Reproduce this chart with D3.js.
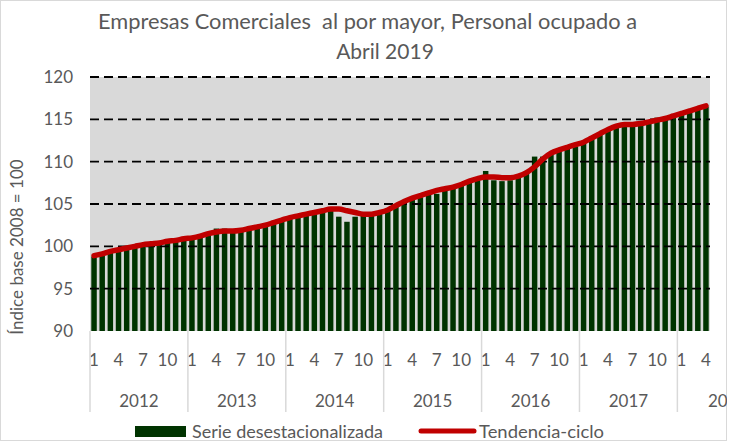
<!DOCTYPE html>
<html>
<head>
<meta charset="utf-8">
<script src="https://cdn.jsdelivr.net/npm/d3@7"></script>
<style>
  body { margin: 0; background: #fff; }
  text { font-family: Lato, "Open Sans", sans-serif; fill: #595959; }
</style>
</head>
<body>
<script>
// Page size
const width = 730;
const height = 441;

// Data: years, month tick labels, and the two series (Jan 2012 - Apr 2018)
const years = ['2012', '2013', '2014', '2015', '2016', '2017', '2018'];
const yTicks = [90, 95, 100, 105, 110, 115, 120];

const serie = [
  98.8, 99.1, 99.3, 99.5, 99.8, 99.9, 100.1, 100.3, 100.4, 100.5, 100.6, 100.8,
  101.0, 101.1, 101.4, 102.1, 102.1, 101.8, 101.8, 102.0, 102.2, 102.4, 102.7, 103.0,
  103.3, 103.5, 103.7, 103.9, 104.1, 104.3, 103.5, 102.9, 103.5, 103.6, 103.7, 104.0,
  104.3, 104.7, 105.2, 105.5, 105.8, 106.3, 106.2, 106.7, 106.9, 107.3, 107.6, 107.9,
  108.9, 107.8, 107.7, 107.8, 108.1, 108.8, 110.6, 110.6, 111.0, 111.3, 111.5, 111.8,
  112.2, 112.7, 113.2, 113.7, 114.1, 114.3, 114.3, 114.4, 114.8, 115.2, 115.2, 115.3,
  115.6, 115.9, 116.2, 116.5
];

const tendencia = [
  98.9, 99.1, 99.4, 99.6, 99.8, 100.0, 100.2, 100.3, 100.4, 100.6, 100.7, 100.9,
  101.0, 101.2, 101.5, 101.7, 101.8, 101.8, 101.9, 102.1, 102.3, 102.5, 102.8, 103.1,
  103.4, 103.6, 103.8, 104.0, 104.2, 104.4, 104.4, 104.2, 104.0, 103.8, 103.8, 104.0,
  104.3, 104.8, 105.3, 105.7, 106.0, 106.3, 106.6, 106.8, 107.0, 107.3, 107.7, 108.0,
  108.2, 108.2, 108.1, 108.1, 108.3, 108.7, 109.4, 110.3, 111.0, 111.4, 111.7, 112.0,
  112.3, 112.8, 113.3, 113.8, 114.2, 114.4, 114.4, 114.5, 114.7, 114.9, 115.1, 115.4,
  115.7, 116.0, 116.3, 116.6
];

// one entry per month
const months = serie.map((v, i) => ({
  i: i,
  year: years[Math.floor(i / 12)],
  month: (i % 12) + 1,
  serie: v,
  tend: tendencia[i]
}));

const plot = { left: 90, right: 710, top: 77, bottom: 331 };

const svg = d3.select('body').append('svg').attr('width', width).attr('height', height);

svg.append('defs').append('clipPath').attr('id', 'frame')
  .append('rect').attr('width', 727).attr('height', height);

// chart border
svg.append('rect')
  .attr('x', 0.5).attr('y', 0.5)
  .attr('width', 726).attr('height', height - 1)
  .attr('fill', 'none').attr('stroke', '#d9d9d9');

const x = d3.scaleBand()
  .domain(months.map(d => d.i))
  .range([plot.left, plot.right])
  .paddingInner(0.33)
  .paddingOuter(0.16);

const step = (plot.right - plot.left) / months.length;

const y = d3.scaleLinear().domain([90, 120]).range([plot.bottom, plot.top]);

// plot background
svg.append('rect')
  .attr('x', plot.left).attr('y', plot.top)
  .attr('width', plot.right - plot.left).attr('height', plot.bottom - plot.top)
  .attr('fill', '#d9d9d9');

// bars
svg.append('g')
  .selectAll('rect')
  .data(months)
  .join('rect')
    .attr('x', d => x(d.i))
    .attr('width', x.bandwidth())
    .attr('y', d => y(d.serie))
    .attr('height', d => y(90) - y(d.serie))
    .attr('fill', '#003300');

// dashed gridlines
svg.append('g')
  .selectAll('line')
  .data(yTicks.filter(t => t > 90))
  .join('line')
    .attr('x1', plot.left).attr('x2', plot.right)
    .attr('y1', d => y(d)).attr('y2', d => y(d))
    .attr('stroke', '#000')
    .attr('stroke-width', 1.8)
    .attr('stroke-dasharray', '9,5');

// trend line
const line = d3.line()
  .x(d => x(d.i) + x.bandwidth() / 2)
  .y(d => y(d.tend))
  .curve(d3.curveMonotoneX);

svg.append('path')
  .datum(months)
  .attr('d', line)
  .attr('fill', 'none')
  .attr('stroke', '#c00000')
  .attr('stroke-width', 5.5)
  .attr('stroke-linecap', 'round')
  .attr('stroke-linejoin', 'round');

// y axis labels
svg.append('g')
  .selectAll('text')
  .data(yTicks)
  .join('text')
    .attr('x', 73)
    .attr('y', d => y(d) + 6)
    .attr('text-anchor', 'end')
    .attr('font-size', 17)
    .text(d => d);

// y axis title
svg.append('text')
  .attr('transform', 'translate(23,247) rotate(-90)')
  .attr('text-anchor', 'middle')
  .attr('font-size', 17)
  .text('Índice base 2008 = 100');

// x axis: month labels
const g = svg.append('g').attr('clip-path', 'url(#frame)');

g.selectAll('text.month')
  .data(months.filter(d => (d.month - 1) % 3 === 0))
  .join('text')
    .attr('class', 'month')
    .attr('x', d => x(d.i) + x.bandwidth() / 2)
    .attr('y', 366)
    .attr('text-anchor', 'middle')
    .attr('font-size', 17)
    .text(d => d.month);

// year separators
g.selectAll('line.sep')
  .data(years)
  .join('line')
    .attr('class', 'sep')
    .attr('x1', (d, k) => plot.left + k * 12 * step)
    .attr('x2', (d, k) => plot.left + k * 12 * step)
    .attr('y1', plot.bottom).attr('y2', 412)
    .attr('stroke', '#d9d9d9')
    .attr('stroke-width', 1.5);

// year labels (the last one is clipped by the frame, as in the original)
g.selectAll('text.year')
  .data(years)
  .join('text')
    .attr('class', 'year')
    .attr('x', (d, k) => k < 6 ? plot.left + (k * 12 + 6) * step : 708)
    .attr('y', 407)
    .attr('text-anchor', (d, k) => k < 6 ? 'middle' : 'start')
    .attr('font-size', 17)
    .text(d => d);

// title
svg.append('text')
  .attr('x', 98).attr('y', 29)
  .attr('font-size', 21)
  .attr('textLength', 539)
  .attr('lengthAdjust', 'spacingAndGlyphs')
  .text('Empresas Comerciales  al por mayor, Personal ocupado a')
  .style('white-space', 'pre');

svg.append('text')
  .attr('x', 385).attr('y', 59)
  .attr('text-anchor', 'middle')
  .attr('font-size', 21)
  .text('Abril 2019');

// legend
svg.append('rect')
  .attr('x', 135).attr('y', 426)
  .attr('width', 51).attr('height', 11)
  .attr('fill', '#003300');

svg.append('text')
  .attr('x', 192).attr('y', 438)
  .attr('font-size', 17)
  .attr('textLength', 191)
  .attr('lengthAdjust', 'spacingAndGlyphs')
  .text('Serie desestacionalizada');

svg.append('line')
  .attr('x1', 421).attr('x2', 474)
  .attr('y1', 431).attr('y2', 431)
  .attr('stroke', '#c00000')
  .attr('stroke-width', 5)
  .attr('stroke-linecap', 'round');

svg.append('text')
  .attr('x', 479).attr('y', 438)
  .attr('font-size', 17)
  .attr('textLength', 125)
  .attr('lengthAdjust', 'spacingAndGlyphs')
  .text('Tendencia-ciclo');
</script>
</body>
</html>
